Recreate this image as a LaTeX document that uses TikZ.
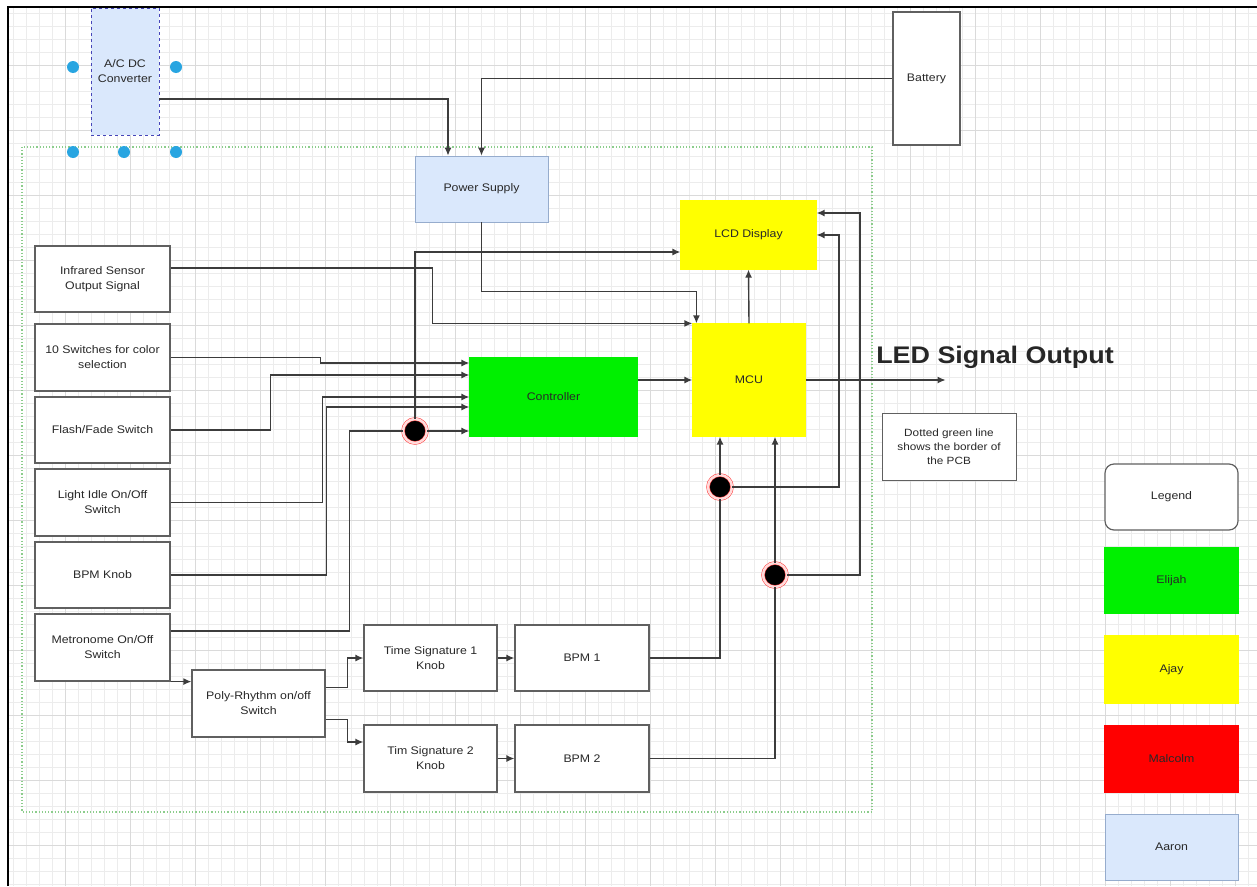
\documentclass[tikz,border=0pt]{standalone}
\usepackage{fontspec}
\setmainfont{Liberation Sans}[FakeStretch=1.12]
\usetikzlibrary{arrows.meta, positioning, calc}
\newcommand{\blkfont}{\fontsize{11}{15}\selectfont}
\definecolor{clrBlue}   {RGB}{218,232,252}
\definecolor{clrBlueBdr}{RGB}{150,172,205}
\definecolor{clrYel}    {RGB}{255,255,  0}
\definecolor{clrGrn}    {RGB}{  0,240,  0}
\definecolor{clrRed}    {RGB}{255,  0,  0}
\definecolor{clrLine}   {RGB}{ 60, 60, 60}
\definecolor{clrTxt}    {RGB}{ 40, 40, 40}
\definecolor{clrGrid}   {RGB}{236,236,236}
\definecolor{clrGridMaj}{RGB}{218,218,218}
\definecolor{clrPCB}    {RGB}{140,205,140}
\definecolor{clrHandle} {RGB}{ 40,165,225}
\tikzset{
  blk/.style={rectangle, draw=gray!75!black, line width=1.2pt, fill=white,
    minimum width=134pt, minimum height=66pt, align=center, inner sep=2pt,
    font=\blkfont, text=clrTxt},
  pwrblk/.style={blk, draw=clrBlueBdr, line width=0.7pt, fill=clrBlue},
  ajayblk/.style={blk, draw=clrYel, fill=clrYel},
  elijahblk/.style={blk, draw=clrGrn, fill=clrGrn},
  malcolmblk/.style={blk, draw=clrRed, fill=clrRed},
  legblk/.style={blk, rounded corners=9pt},
  noteblk/.style={blk, line width=0.8pt, font=\fontsize{10.5}{14}\selectfont},
  junc/.style={circle, fill=black, minimum size=24pt, inner sep=0pt,
    draw=red!75, double=red!14, double distance=2.5pt, line width=0.5pt},
  arr/.style={-{Latex[length=8pt,width=7pt]}, line width=1.4pt, color=clrLine},
  wire/.style={line width=1.4pt, color=clrLine},
}
\begin{document}
\begin{tikzpicture}[x=1pt,y=-1pt,font=\blkfont]
\useasboundingbox (0,0) rectangle (1257,886);
\fill[white] (0,0) rectangle (1257,886);
% page grid
\draw[clrGrid, line width=0.5pt, step=13pt] (8,7) grid (1257,886);
\draw[clrGridMaj, line width=0.6pt, step=65pt] (8,7) grid (1257,886);
\draw[black, line width=2pt] (8,886) -- (8,7) -- (1257,7);
% pcb border
\draw[clrPCB, dotted, line width=1.2pt] (22,147) rectangle (872,812);
% power
\node[pwrblk, dashed, draw=gray!55!blue, minimum width=68pt, minimum height=127pt] (acdc) at (125,71.5) {A/C DC\\Converter};
\foreach \hx/\hy in {73/67,176/67,73/152,124/152,176/152}
  \fill[clrHandle] (\hx,\hy) circle (6pt);
\node[blk, minimum width=67pt, minimum height=133pt] (battery) at (926.5,78.5) {Battery};
\node[pwrblk, minimum width=133pt] (psu) at (481.5,189) {Power Supply};
% inputs
\node[blk, minimum width=135pt] (ir) at (102.5,279) {Infrared Sensor\\Output Signal};
\node[blk, minimum width=135pt, minimum height=67pt] (sw10) at (102.5,357.5) {10 Switches for color\\selection};
\node[blk, minimum width=135pt] (flash) at (102.5,430) {Flash/Fade Switch};
\node[blk, minimum width=135pt, minimum height=67pt] (idle) at (102.5,502.5) {Light Idle On/Off\\Switch};
\node[blk, minimum width=135pt] (bpmknob) at (102.5,575) {BPM Knob};
\node[blk, minimum width=135pt, minimum height=67pt] (metro) at (102.5,647.5) {Metronome On/Off\\Switch};
\node[blk, minimum width=133pt, minimum height=67pt] (poly) at (258.5,703.5) {Poly-Rhythm on/off\\Switch};
\node[blk, minimum width=133pt] (ts1) at (430.5,658) {Time Signature 1\\Knob};
\node[blk] (bpm1) at (582,658) {BPM 1};
\node[blk, minimum width=133pt, minimum height=67pt] (ts2) at (430.5,758.5) {Tim Signature 2\\Knob};
\node[blk, minimum height=67pt] (bpm2) at (582,758.5) {BPM 2};
% processing
\node[elijahblk, minimum width=167pt, minimum height=78pt] (ctrl) at (553.5,397) {Controller};
\node[ajayblk, minimum width=112pt, minimum height=112pt] (mcu) at (749,380) {MCU};
\node[ajayblk, minimum width=135pt, minimum height=68pt] (lcd) at (748.5,235) {LCD Display};
\node[font=\fontsize{24}{28}\selectfont\bfseries, text=black!85] (ledlbl) at (995,357) {LED Signal Output};
\node[noteblk, minimum height=67pt] (note) at (949,446.5) {Dotted green line\\shows the border of\\the PCB};
% junctions
\node[junc] (j1) at (415,431) {};
\node[junc] (j2) at (720,487) {};
\node[junc] (j3) at (775,575) {};
% legend
\node[legblk, minimum width=133pt] (legend) at (1171.5,497) {Legend};
\node[elijahblk, minimum width=133pt, minimum height=65pt] (legE) at (1171.5,580.5) {Elijah};
\node[ajayblk, minimum width=133pt, minimum height=67pt] (legA) at (1171.5,669.5) {Ajay};
\node[malcolmblk, minimum width=133pt] (legM) at (1171.5,759) {Malcolm};
\node[pwrblk, minimum width=133pt] (legR) at (1171.5,847) {Aaron};
% supply wiring
\draw[arr] ([yshift=-27.5pt]acdc.east) -| ([xshift=-33.5pt]psu.north);
\draw[arr] (battery.west) -| (psu.north);
\draw[arr] (psu.south) -- ++(0,69) -| ([xshift=4pt]mcu.north west);
% inputs to controller / mcu
\draw[arr] ([yshift=11pt]ir.east) -- ++(262,0) |- (mcu.north west);
\draw[arr] (sw10.east) -- ++(150,0) |- ([yshift=34pt]ctrl.west);
\draw[arr] (flash.east) -- ++(100,0) |- ([yshift=22pt]ctrl.west);
\draw[arr] (idle.east) -- ++(152,0) |- (ctrl.west);
\draw[arr] (bpmknob.east) -- ++(156,0) |- ([yshift=-10pt]ctrl.west);
\draw[wire] ([yshift=16.5pt]metro.east) -- ++(179,0) |- (j1);
\draw[arr] (j1) -- ([yshift=-34pt]ctrl.west);
\draw[arr] (j1) |- ([yshift=-17pt]lcd.west);
\draw[arr] (ctrl.east |- mcu.west) -- (mcu.west);
\draw[arr] (mcu.north) -- (lcd.south);
\draw[arr] (mcu.east) -- ++(140,0) coordinate (ledend);
% metronome chain
\draw[arr] (metro.south east) -- (metro.south east -| poly.west);
\draw[arr] ([yshift=16pt]poly.east) -- ++(22,0) |- (ts1.west);
\draw[arr] ([yshift=-16pt]poly.east) -- ++(22,0) |- ([yshift=16.5pt]ts2.west);
\draw[arr] (ts1) -- (bpm1);
\draw[arr] (ts2) -- (bpm2);
\draw[wire] (bpm1.east) -| (j2);
\draw[arr] (j2) -- (j2 |- mcu.south);
\draw[arr] (j2) -- ++(119,0) |- (lcd.east);
\draw[wire] (bpm2.east) -| (j3);
\draw[arr] (j3) -- (j3 |- mcu.south);
\draw[arr] (j3) -- ++(85,0) |- ([yshift=22pt]lcd.east);
\end{tikzpicture}
\end{document}
